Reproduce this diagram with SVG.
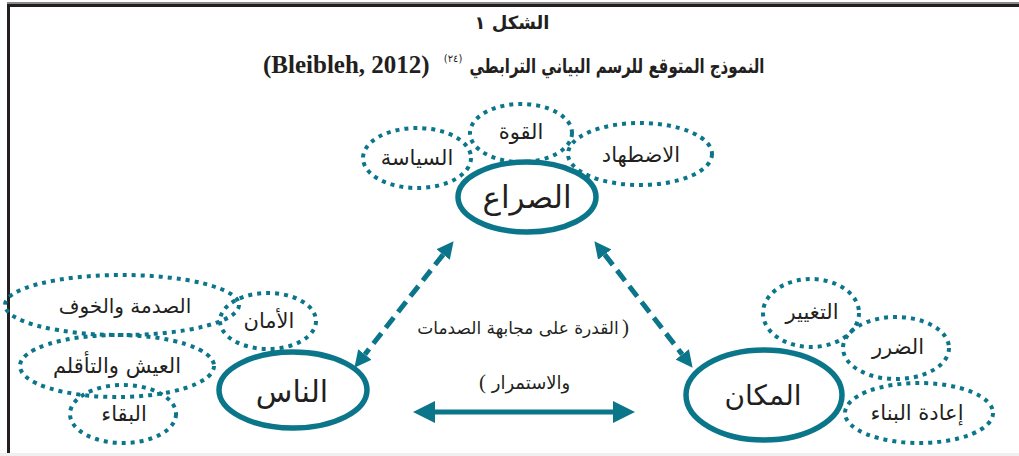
<svg xmlns="http://www.w3.org/2000/svg" width="1019" height="456" viewBox="0 0 1019 456">
<style>
.bg{fill:#ffffff}
.frame{fill:#231f20}
.main{fill:none;stroke:#0b768a;stroke-width:5.5}
.sat{fill:none;stroke:#0b768a;stroke-width:4;stroke-dasharray:4 5}
.dash{fill:none;stroke:#0b768a;stroke-width:5;stroke-dasharray:13 7}
.solid{fill:none;stroke:#0b768a;stroke-width:5}
.ar{font-family:"DejaVu Sans",sans-serif;fill:#231f20;text-anchor:middle}
.pr{font-family:"Liberation Serif",serif;fill:#231f20;font-size:21px}
.t{font-weight:bold}
</style>
<defs>
<marker id="hd" viewBox="0 -9 17 18" refX="0" refY="0" markerWidth="17" markerHeight="18" markerUnits="userSpaceOnUse" orient="auto-start-reverse">
<path d="M0,-8.5 L17,0 L0,8.5 z" fill="#0b768a"/>
</marker>
<marker id="hs" viewBox="0 -11 22 22" refX="0" refY="0" markerWidth="22" markerHeight="22" markerUnits="userSpaceOnUse" orient="auto-start-reverse">
<path d="M0,-11 L22,0 L0,11 z" fill="#0b768a"/>
</marker>
</defs>
<rect class="bg" x="0" y="0" width="1019" height="456"/>
<rect x="7" y="2" width="1012" height="2" fill="#8a8a8a"/>
<rect class="frame" x="7" y="4" width="1012" height="3"/>
<rect class="frame" x="7" y="4" width="3" height="449"/>
<rect x="0" y="453" width="1019" height="3" fill="#f0f0f0"/>

<g id="title">
<text class="ar t" x="512" y="29" font-size="18">الشكل ١</text>
<text class="ar t" x="617" y="73" font-size="20" textLength="295" lengthAdjust="spacingAndGlyphs">النموذج المتوقع للرسم البياني الترابطي</text>
<text class="ar" x="453" y="62" font-size="10">(٢٤)</text>
<text x="263" y="73" font-family="Liberation Serif, serif" font-weight="bold" font-size="25" fill="#231f20">(Bleibleh, 2012)</text>
</g>

<g id="connectors">
<line class="dash" x1="443.1" y1="254.6" x2="364.9" y2="354.4" marker-start="url(#hd)" marker-end="url(#hd)"/>
<line class="dash" x1="604.8" y1="254.6" x2="682.2" y2="354.4" marker-start="url(#hd)" marker-end="url(#hd)"/>
<line class="solid" x1="435" y1="412" x2="613" y2="412" marker-start="url(#hs)" marker-end="url(#hs)"/>
</g>

<g id="node-conflict">
<ellipse class="main" cx="527" cy="197" rx="69" ry="35"/>
<text class="ar" x="527" y="208" font-size="31">الصراع</text>
</g>
<g id="node-politics">
<ellipse class="sat" cx="417" cy="158" rx="54" ry="30"/>
<text class="ar" x="417" y="165" font-size="21">السياسة</text>
</g>
<g id="node-power">
<ellipse class="sat" cx="521" cy="133" rx="51" ry="29"/>
<text class="ar" x="521" y="139" font-size="21">القوة</text>
</g>
<g id="node-persecution">
<ellipse class="sat" cx="640" cy="154" rx="72" ry="31"/>
<text class="ar" x="641" y="162" font-size="21">الاضطهاد</text>
</g>

<g id="node-people">
<ellipse class="main" cx="293" cy="390" rx="74" ry="38"/>
<text class="ar" x="292" y="402" font-size="30">الناس</text>
</g>
<g id="node-shock">
<ellipse class="sat" cx="122" cy="305" rx="117" ry="30"/>
<text class="ar" x="125" y="313" font-size="20">الصدمة والخوف</text>
</g>
<g id="node-safety">
<ellipse class="sat" cx="268" cy="321" rx="48" ry="28"/>
<text class="ar" x="269" y="328" font-size="21">الأمان</text>
</g>
<g id="node-coping">
<ellipse class="sat" cx="117" cy="366" rx="97" ry="31"/>
<text class="ar" x="117" y="373" font-size="21">العيش والتأقلم</text>
</g>
<g id="node-survival">
<ellipse class="sat" cx="123" cy="414" rx="53" ry="29"/>
<text class="ar" x="124" y="421" font-size="21">البقاء</text>
</g>

<g id="node-place">
<ellipse class="main" cx="764" cy="395" rx="78" ry="45"/>
<text class="ar" x="763" y="405" font-size="28">المكان</text>
</g>
<g id="node-change">
<ellipse class="sat" cx="811" cy="313" rx="48" ry="34"/>
<text class="ar" x="812" y="319" font-size="21">التغيير</text>
</g>
<g id="node-damage">
<ellipse class="sat" cx="896" cy="348" rx="53" ry="31"/>
<text class="ar" x="898" y="354" font-size="21">الضرر</text>
</g>
<g id="node-rebuild">
<ellipse class="sat" cx="919" cy="413" rx="74" ry="30"/>
<text class="ar" x="917" y="420" font-size="21">إعادة البناء</text>
</g>

<g id="edge-label">
<text class="ar" x="518" y="334" font-size="17">القدرة على مجابهة الصدمات</text>
<text class="pr" x="622" y="334">)</text>
<text class="ar" x="531" y="389" font-size="18">والاستمرار</text>
<text class="pr" x="479" y="389">(</text>
</g>
</svg>
